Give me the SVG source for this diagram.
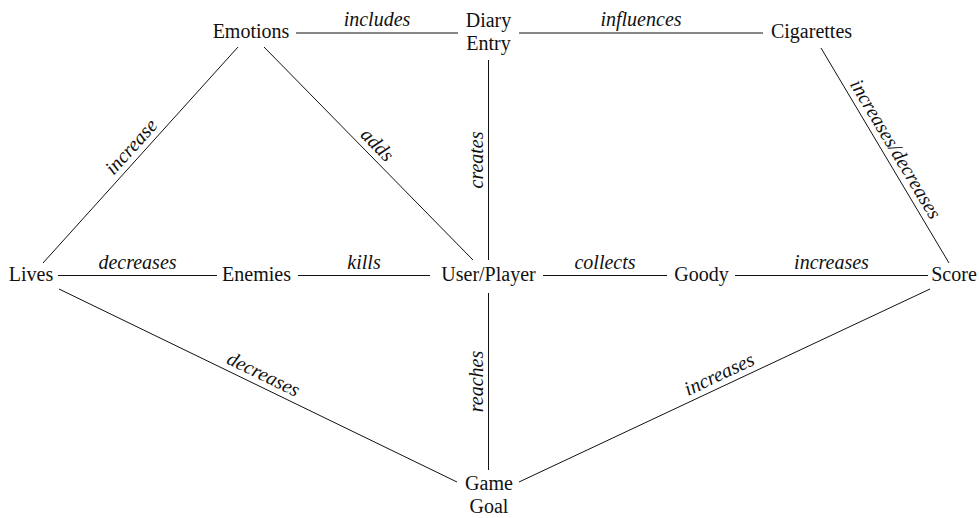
<svg xmlns="http://www.w3.org/2000/svg" width="979" height="518" viewBox="0 0 979 518">
  <style>
    .node { font-family: "Liberation Serif", "DejaVu Serif", serif; font-size: 20px; fill: #111; text-anchor: middle; }
    .lbl { font-family: "Liberation Serif", "DejaVu Serif", serif; font-size: 20px; font-style: italic; fill: #111; text-anchor: middle; }
    .edge line { stroke: #111; stroke-width: 1; fill: none; }
  </style>
  <rect width="979" height="518" fill="#fff"/>

  <!-- connectors -->
  <g id="edges" class="edge">
    <line x1="296" y1="33" x2="458" y2="33"/>
    <line x1="519" y1="33" x2="763" y2="33"/>
    <line x1="238" y1="47" x2="43" y2="263"/>
    <line x1="264" y1="47" x2="473" y2="260"/>
    <line x1="488.5" y1="60" x2="488.5" y2="260"/>
    <line x1="821" y1="48" x2="949" y2="263"/>
    <line x1="58" y1="275.5" x2="217" y2="275.5"/>
    <line x1="298" y1="275.5" x2="430" y2="275.5"/>
    <line x1="543" y1="275.5" x2="667" y2="275.5"/>
    <line x1="735" y1="275.5" x2="928" y2="275.5"/>
    <line x1="59" y1="289" x2="457" y2="482"/>
    <line x1="488.5" y1="293" x2="488.5" y2="470"/>
    <line x1="930" y1="289" x2="519" y2="482"/>
  </g>

  <!-- connector labels -->
  <g id="edge-labels">
    <text class="lbl" x="377" y="26">includes</text>
    <text class="lbl" x="641" y="26">influences</text>
    <text class="lbl" transform="translate(140.5,155) rotate(-47.9)" y="-6">increase</text>
    <text class="lbl" transform="translate(368.5,153.5) rotate(45.5)" y="-6">adds</text>
    <text class="lbl" transform="translate(488.5,160) rotate(-90)" y="-6">creates</text>
    <text class="lbl" transform="translate(885,155.5) rotate(59.2)" y="-6">increases/decreases</text>
    <text class="lbl" x="137.5" y="268.5">decreases</text>
    <text class="lbl" x="364" y="268.5">kills</text>
    <text class="lbl" x="605" y="268.5">collects</text>
    <text class="lbl" x="831.5" y="268.5">increases</text>
    <text class="lbl" transform="translate(258,385.5) rotate(25.9)" y="-6">decreases</text>
    <text class="lbl" transform="translate(488.5,381.5) rotate(-90)" y="-6">reaches</text>
    <text class="lbl" transform="translate(724.5,385.5) rotate(-25.2)" y="-6">increases</text>
  </g>

  <!-- nodes -->
  <g id="emotions"><text class="node" x="251" y="38">Emotions</text></g>
  <g id="diary-entry">
    <text class="node" x="488.5" y="27">Diary</text>
    <text class="node" x="488.5" y="50">Entry</text>
  </g>
  <g id="cigarettes"><text class="node" x="811.5" y="38">Cigarettes</text></g>
  <g id="lives"><text class="node" x="31" y="281">Lives</text></g>
  <g id="enemies"><text class="node" x="256.5" y="281">Enemies</text></g>
  <g id="user-player"><text class="node" x="488.5" y="281">User/Player</text></g>
  <g id="goody"><text class="node" x="701.5" y="281">Goody</text></g>
  <g id="score"><text class="node" x="954" y="281">Score</text></g>
  <g id="game-goal">
    <text class="node" x="489" y="490">Game</text>
    <text class="node" x="489" y="513">Goal</text>
  </g>
</svg>
